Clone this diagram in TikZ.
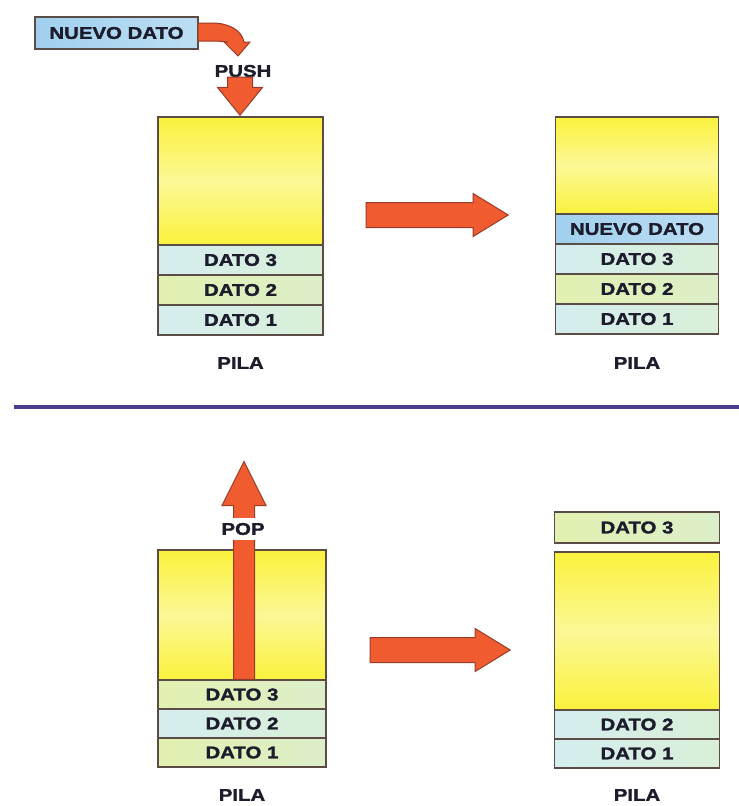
\documentclass[tikz,border=0pt]{standalone}
\usepackage{fontspec}
\newfontfamily\pilafont{Liberation Sans}[FakeStretch=1.2, FakeBold=1.6]
\usetikzlibrary{positioning, shapes.arrows}

\definecolor{pilayel}{RGB}{250,242,60}
\definecolor{pilalight}{RGB}{252,248,150}
\definecolor{datocyan}{RGB}{212,238,240}
\definecolor{datogreen}{RGB}{226,240,176}
\definecolor{nuevoblue}{RGB}{160,208,238}
\definecolor{cellline}{RGB}{92,76,70}
\definecolor{arrowfill}{RGB}{240,92,48}
\definecolor{arrowline}{RGB}{150,60,40}
\definecolor{sepline}{RGB}{74,60,144}
\definecolor{txt}{RGB}{28,28,44}

\tikzset{
  rotulo/.style={font=\pilafont\bfseries\fontsize{17}{18}\selectfont, text=txt, inner sep=0pt},
  cell/.style={rotulo, draw=cellline, line width=1.3pt, minimum width=165pt,
               minimum height=30pt, outer sep=0pt},
  hueco/.style={cell, top color=pilayel, bottom color=pilayel, middle color=pilalight},
  datoc/.style={cell, left color=datocyan, right color=datocyan!60!datogreen},
  datog/.style={cell, left color=datogreen, right color=datogreen!60!datocyan},
  nuevo/.style={cell, left color=nuevoblue, right color=nuevoblue!70!white},
  flecha/.style={single arrow, draw=arrowline, fill=arrowfill, line width=1pt,
                 single arrow head extend=9pt, single arrow tip angle=63,
                 minimum width=43pt, inner xsep=0pt, inner ysep=12pt}
}

\begin{document}
\begin{tikzpicture}[x=1pt, y=-1pt]
  \useasboundingbox (0,0) rectangle (739,806);

  % push: stack before
  \node[nuevo, minimum width=163pt, minimum height=32pt] (nd) at (116.5,33) {NUEVO DATO};
  \node[hueco, minimum height=128pt, anchor=north] (h1) at (240.5,117) {};
  \node[datoc, below=0pt of h1] (a3) {DATO 3};
  \node[datog, below=0pt of a3] (a2) {DATO 2};
  \node[datoc, below=0pt of a2] (a1) {DATO 1};
  \node[rotulo] (p1) at (240.5,363) {PILA};

  % curved arrow out of the new item
  \draw[draw=arrowline, fill=arrowfill, line width=1pt]
    (198,23) -- (212,23) .. controls (230,23) and (242,31) .. (244,42)
    -- (250,42) -- (238,56) -- (224,42) -- (228,42)
    .. controls (226,42) and (220,41) .. (212,41) -- (198,41) -- cycle;
  \node[rotulo] (push) at (243,71) {PUSH};
  \node[flecha, rotate=-90, minimum height=38pt, single arrow tip angle=78,
        single arrow head extend=10pt] (fpush) at (240,88.5) {};

  % push: stack after
  \node[flecha, minimum height=142pt] (f1) at (427,215) {};
  \node[hueco, minimum width=163pt, minimum height=97pt, anchor=north] (h2) at (637,117) {};
  \node[nuevo, minimum width=163pt, below=0pt of h2] (nd2) {NUEVO DATO};
  \node[datoc, minimum width=163pt, below=0pt of nd2] (b3) {DATO 3};
  \node[datog, minimum width=163pt, below=0pt of b3] (b2) {DATO 2};
  \node[datoc, minimum width=163pt, below=0pt of b2] (b1) {DATO 1};
  \node[rotulo] (p2) at (637,363) {PILA};

  \draw[sepline, line width=4pt] (14,407) -- (739,407);

  % pop: stack before
  \node[hueco, minimum width=168pt, minimum height=130pt, anchor=north] (h3) at (242,550) {};
  \node[datog, minimum width=168pt, minimum height=29pt, below=0pt of h3] (c3) {DATO 3};
  \node[datoc, minimum width=168pt, minimum height=29pt, below=0pt of c3] (c2) {DATO 2};
  \node[datog, minimum width=168pt, minimum height=29pt, below=0pt of c2] (c1) {DATO 1};
  \node[rotulo] (p3) at (242,795) {PILA};
  \node[flecha, rotate=90, minimum height=218pt, inner ysep=10pt,
        single arrow head extend=11.5pt, single arrow tip angle=53] (fpop) at (244,581) {};
  \node[rotulo, fill=white, minimum height=22pt, inner xsep=2pt] (pop) at (243,529) {POP};

  % pop: stack after
  \node[flecha, minimum height=140pt] (f2) at (430,650) {};
  \node[datog, minimum height=31pt] (sale) at (637,527.5) {DATO 3};
  \node[hueco, minimum height=158pt, anchor=north] (h4) at (637,552) {};
  \node[datoc, minimum height=29pt, below=0pt of h4] (e2) {DATO 2};
  \node[datoc, minimum height=29pt, below=0pt of e2] (e1) {DATO 1};
  \node[rotulo] (p4) at (637,795) {PILA};
\end{tikzpicture}
\end{document}
